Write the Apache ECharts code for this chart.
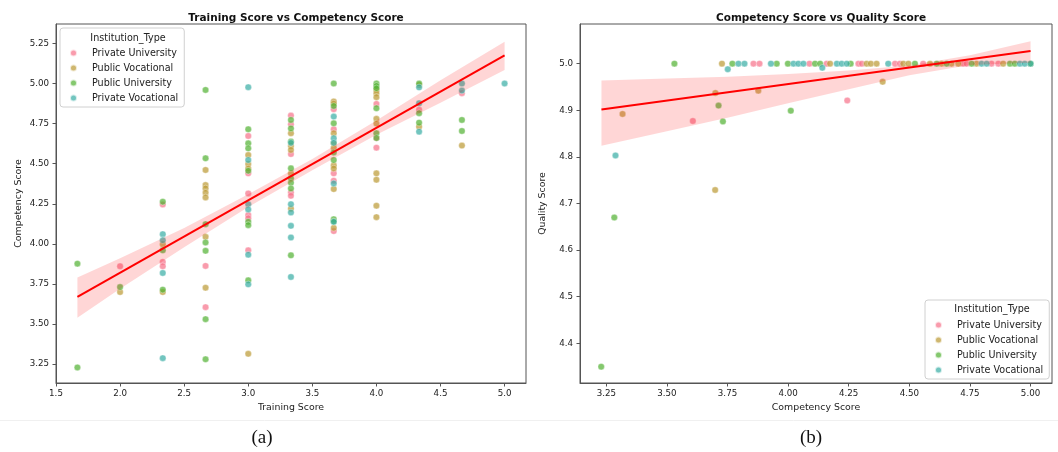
<!DOCTYPE html>
<html>
<head>
<meta charset="utf-8">
<script src="https://cdn.jsdelivr.net/npm/echarts@6/dist/echarts.min.js"></script>
<style>
  html, body { margin: 0; padding: 0; background: #fff; }
  #chart { width: 1058px; height: 452px; }
</style>
</head>
<body>
<div id="chart"></div>
<script>
const categories = ["Private University", "Public Vocational", "Public University", "Private Vocational"];
const palette = ["#f77189", "#bb9832", "#50b131", "#36ada4"];

// (a) Training Score vs Competency Score
const trainPrivUni = [[2.0,3.861],[2.333,4.246],[2.333,3.888],[2.333,3.861],[2.667,3.863],[2.667,3.606],[3.0,4.673],[3.0,4.44],[3.0,4.315],[3.0,4.18],[3.0,4.16],[3.0,3.96],[3.333,4.80],[3.333,4.746],[3.333,4.56],[3.333,4.32],[3.333,4.30],[3.667,4.84],[3.667,4.715],[3.667,4.44],[3.667,4.394],[3.667,4.08],[4.0,4.873],[4.0,4.66],[4.0,4.60],[4.333,4.836],[4.667,4.94]];
const trainPubVoc = [[2.0,3.70],[2.333,3.998],[2.333,3.70],[2.667,4.461],[2.667,4.367],[2.667,4.346],[2.667,4.319],[2.667,4.29],[2.667,4.044],[2.667,3.727],[3.0,4.554],[3.0,4.498],[3.0,4.47],[3.0,3.315],[3.333,4.69],[3.333,4.61],[3.333,4.586],[3.333,4.44],[3.333,4.22],[3.667,4.888],[3.667,4.875],[3.667,4.69],[3.667,4.627],[3.667,4.60],[3.667,4.49],[3.667,4.47],[3.667,4.342],[3.667,4.10],[4.0,4.96],[4.0,4.94],[4.0,4.915],[4.0,4.78],[4.0,4.75],[4.0,4.44],[4.0,4.40],[4.0,4.238],[4.0,4.167],[4.333,4.99],[4.333,4.73],[4.667,4.613]];
const trainPubUni = [[1.667,3.877],[1.667,3.23],[2.0,3.731],[2.333,4.263],[2.333,3.96],[2.333,3.715],[2.667,4.96],[2.667,4.534],[2.667,4.123],[2.667,4.009],[2.667,3.957],[2.667,3.531],[2.667,3.281],[3.0,4.715],[3.0,4.627],[3.0,4.596],[3.0,4.456],[3.0,4.138],[3.0,4.117],[3.0,3.773],[3.333,4.773],[3.333,4.72],[3.333,4.638],[3.333,4.471],[3.333,4.409],[3.333,4.381],[3.333,4.346],[3.333,3.929],[3.667,5.0],[3.667,4.86],[3.667,4.752],[3.667,4.57],[3.667,4.523],[3.667,4.154],[3.667,4.14],[4.0,5.0],[4.0,4.985],[4.0,4.97],[4.0,4.846],[4.0,4.69],[4.0,4.66],[4.333,5.0],[4.333,4.815],[4.333,4.756],[4.667,4.773],[4.667,4.704]];
const trainPrivVoc = [[2.333,4.061],[2.333,4.023],[2.333,3.819],[2.333,3.288],[3.0,4.977],[3.0,4.523],[3.0,4.248],[3.0,4.215],[3.0,3.933],[3.0,3.748],[3.333,4.63],[3.333,4.248],[3.333,4.196],[3.333,4.113],[3.333,4.04],[3.333,3.794],[3.667,4.794],[3.667,4.659],[3.667,4.63],[3.667,4.377],[3.667,4.138],[4.333,4.976],[4.333,4.877],[4.333,4.70],[4.667,5.0],[4.667,4.956],[5.0,5.0]];

const trainFitX = [1.667, 5.0];
const trainFitY = [3.67, 5.175];
const trainBandX = [1.667, 2.0, 2.5, 3.0, 3.5, 4.0, 4.5, 5.0];
const trainBandLo = [3.54, 3.72, 3.98, 4.23, 4.46, 4.68, 4.88, 5.085];
const trainBandHi = [3.79, 3.91, 4.10, 4.31, 4.53, 4.77, 5.02, 5.26];

const trainTicksX = [1.5, 2.0, 2.5, 3.0, 3.5, 4.0, 4.5, 5.0];
const trainTicksY = [3.25, 3.5, 3.75, 4.0, 4.25, 4.5, 4.75, 5.0, 5.25];

// (b) Competency Score vs Quality Score
const qualPrivUni = [[3.607,4.877],[4.244,4.921],[3.857,5],[3.882,5],[4.088,5],[4.159,5],[4.290,5],[4.304,5],[4.441,5],[4.461,5],[4.557,5],[4.722,5],[4.736,5],[4.839,5],[4.867,5]];
const qualPubVoc = [[3.317,4.892],[3.70,4.937],[3.699,4.729],[3.877,4.942],[4.39,4.961],[3.727,5],[4.173,5],[4.324,5],[4.341,5],[4.365,5],[4.475,5],[4.496,5],[4.585,5],[4.633,5],[4.674,5],[4.702,5],[4.777,5],[4.887,5]];
const qualPubUni = [[3.229,4.35],[3.283,4.67],[3.713,4.91],[3.731,4.876],[4.011,4.899],[3.531,5],[3.770,5],[3.953,5],[3.999,5],[4.111,5],[4.132,5],[4.258,5],[4.523,5],[4.613,5],[4.654,5],[4.757,5],[4.915,5],[4.935,5],[5.0,5]];
const qualPrivVoc = [[3.288,4.803],[3.751,4.988],[4.141,4.991],[3.795,5],[3.820,5],[3.929,5],[4.022,5],[4.042,5],[4.063,5],[4.201,5],[4.221,5],[4.242,5],[4.413,5],[4.798,5],[4.819,5],[4.956,5],[4.976,5],[5.0,5]];

const qualFitX = [3.23, 5.0];
const qualFitY = [4.9015, 5.027];
const qualBandX = [3.23, 3.5, 3.75, 4.0, 4.25, 4.5, 4.75, 5.0];
const qualBandLo = [4.824, 4.855, 4.884, 4.915, 4.945, 4.975, 4.997, 5.002];
const qualBandHi = [4.964, 4.968, 4.972, 4.978, 4.985, 4.996, 5.018, 5.048];

const qualTicksX = [3.25, 3.5, 3.75, 4.0, 4.25, 4.5, 4.75, 5.0];
const qualTicksY = [4.4, 4.5, 4.6, 4.7, 4.8, 4.9, 5.0];

const FONT = "DejaVu Sans";
const INK = "#222";
const SPINE = "#555";

function scatter(name, idx, data) {
  return {
    name,
    type: "scatter",
    xAxisIndex: idx,
    yAxisIndex: idx,
    data,
    symbolSize: 6.5,
    z: 2,
    itemStyle: {
      color: palette[categories.indexOf(name)],
      opacity: 0.7,
      borderColor: "#fff",
      borderWidth: 0.5,
    },
  };
}

// confidence band drawn as one polygon: upper edge left->right, lower edge back
function band(idx, xs, lo, hi) {
  return {
    type: "custom",
    xAxisIndex: idx,
    yAxisIndex: idx,
    silent: true,
    z: 3,
    encode: { x: 0, y: [1, 2] },
    data: xs.map((x, i) => [x, lo[i], hi[i]]),
    renderItem: (params, api) => {
      if (params.dataIndex !== 0) {
        return;
      }
      const upper = xs.map((x, i) => api.coord([x, hi[i]]));
      const lower = xs.map((x, i) => api.coord([x, lo[i]])).reverse();
      return {
        type: "polygon",
        shape: { points: upper.concat(lower) },
        style: { fill: "rgba(255, 0, 0, 0.16)" },
      };
    },
  };
}

function fit(idx, xs, ys) {
  return {
    type: "line", xAxisIndex: idx, yAxisIndex: idx, symbol: "none", silent: true, z: 4,
    lineStyle: { color: "#ff0000", width: 2 },
    data: xs.map((x, i) => [x, ys[i]]),
  };
}

function valueAxis(idx, min, max, ticks, digits, name, isY) {
  return {
    type: "value",
    gridIndex: idx,
    min,
    max,
    name,
    nameLocation: "middle",
    nameGap: isY ? 33 : 20,
    nameTextStyle: { fontFamily: FONT, fontSize: 9.4, color: INK },
    axisLine: { show: true, lineStyle: { color: SPINE, width: 1 } },
    axisTick: { show: true, length: 3.5, customValues: ticks, lineStyle: { color: SPINE } },
    axisLabel: {
      customValues: ticks,
      margin: isY ? 7 : 6,
      fontFamily: FONT,
      fontSize: 8.7,
      color: INK,
      formatter: (v) => v.toFixed(digits),
    },
    splitLine: { show: false },
  };
}

function legend(left, top) {
  return {
    data: categories,
    orient: "vertical",
    left,
    top,
    padding: [19, 6, 3, 9],
    itemGap: 3,
    itemWidth: 7,
    itemHeight: 7,
    icon: "circle",
    borderColor: "#d0d0d0",
    borderWidth: 1,
    borderRadius: 3,
    backgroundColor: "rgba(255,255,255,0.85)",
    selectedMode: false,
    textStyle: { fontFamily: FONT, fontSize: 9.6, color: INK, lineHeight: 12, padding: [0, 0, 0, 10] },
  };
}

const chart = echarts.init(document.getElementById("chart"));

chart.setOption({
  backgroundColor: "#fff",
  animation: false,
  title: [
    { text: "Training Score vs Competency Score", left: 291, top: 8, textAlign: "center",
      textStyle: { fontFamily: FONT, fontSize: 10.5, fontWeight: "bold", color: "#111" } },
    { text: "Competency Score vs Quality Score", left: 816, top: 8, textAlign: "center",
      textStyle: { fontFamily: FONT, fontSize: 10.5, fontWeight: "bold", color: "#111" } },
    { text: "Institution_Type", left: 123, top: 28, textAlign: "center", z: 10,
      textStyle: { fontFamily: FONT, fontSize: 9.6, fontWeight: "normal", color: INK } },
    { text: "Institution_Type", left: 987, top: 299, textAlign: "center", z: 10,
      textStyle: { fontFamily: FONT, fontSize: 9.6, fontWeight: "normal", color: INK } },
    { text: "(a)", left: 257, top: 424, textAlign: "center",
      textStyle: { fontFamily: "Liberation Serif", fontSize: 19, fontWeight: "normal", color: "#111" } },
    { text: "(b)", left: 806, top: 424, textAlign: "center",
      textStyle: { fontFamily: "Liberation Serif", fontSize: 19, fontWeight: "normal", color: "#111" } },
  ],
  legend: [legend(60, 28), legend(925, 300)],
  graphic: [
    { type: "line", shape: { x1: 0, y1: 420.5, x2: 1058, y2: 420.5 }, style: { stroke: "#f0f0f0", lineWidth: 1 }, silent: true },
  ],
  grid: [
    { left: 56, top: 24, width: 470, height: 359, show: true, borderColor: SPINE, borderWidth: 1 },
    { left: 580, top: 24, width: 472, height: 359, show: true, borderColor: SPINE, borderWidth: 1 },
  ],
  xAxis: [
    valueAxis(0, 1.5, 5.167, trainTicksX, 1, "Training Score", false),
    valueAxis(1, 3.1415, 5.0885, qualTicksX, 2, "Competency Score", false),
  ],
  yAxis: [
    valueAxis(0, 3.133, 5.371, trainTicksY, 2, "Competency Score", true),
    valueAxis(1, 4.315, 5.085, qualTicksY, 1, "Quality Score", true),
  ],
  series: [
    scatter("Private University", 0, trainPrivUni),
    scatter("Public Vocational", 0, trainPubVoc),
    scatter("Public University", 0, trainPubUni),
    scatter("Private Vocational", 0, trainPrivVoc),
    band(0, trainBandX, trainBandLo, trainBandHi),
    fit(0, trainFitX, trainFitY),
    scatter("Private University", 1, qualPrivUni),
    scatter("Public Vocational", 1, qualPubVoc),
    scatter("Public University", 1, qualPubUni),
    scatter("Private Vocational", 1, qualPrivVoc),
    band(1, qualBandX, qualBandLo, qualBandHi),
    fit(1, qualFitX, qualFitY),
  ],
});
</script>
</body>
</html>
